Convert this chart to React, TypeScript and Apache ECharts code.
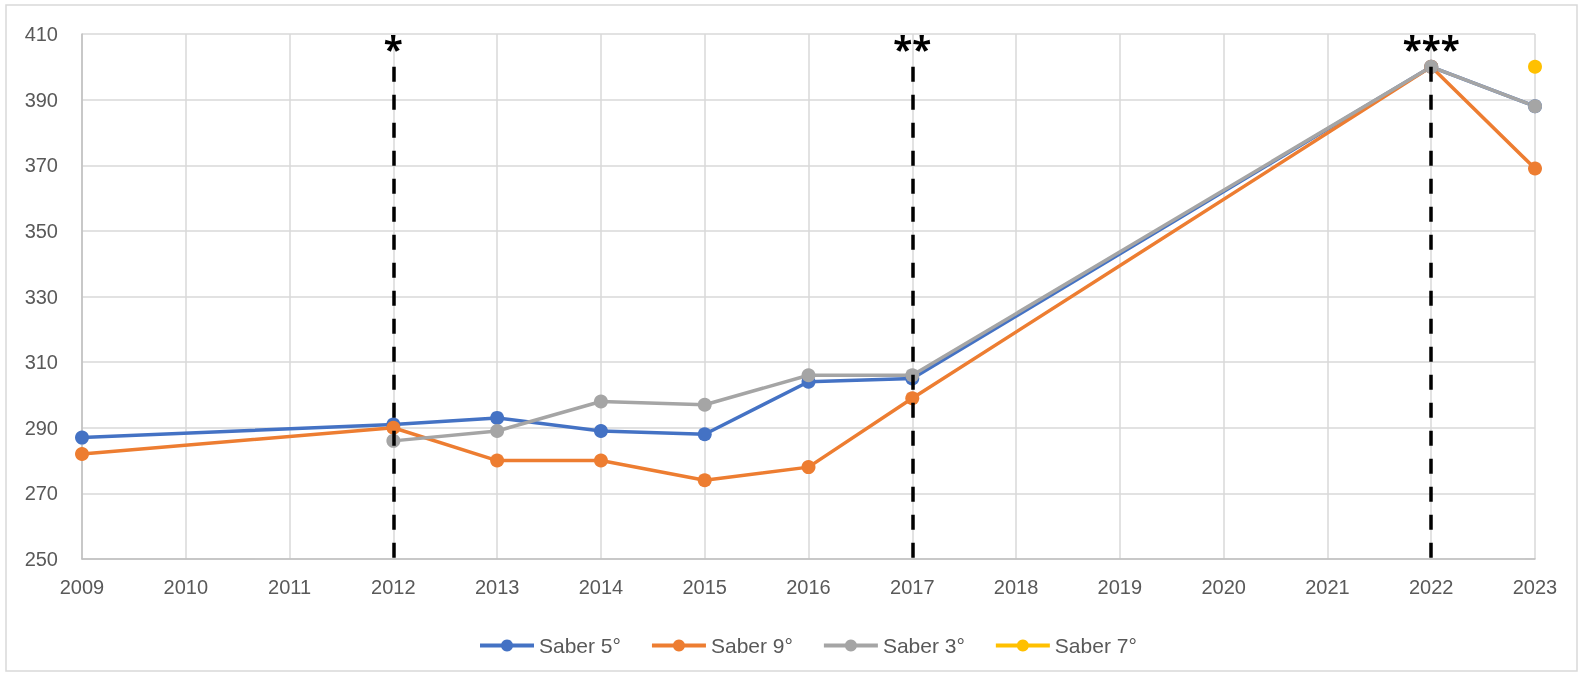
import React, { useEffect, useRef } from "react";
import * as echarts from "echarts";

const years = ["2009", "2010", "2011", "2012", "2013", "2014", "2015", "2016", "2017", "2018", "2019", "2020", "2021", "2022", "2023"];
const saber5 = [287, null, null, 291, 293, 289, 288, 304, 305, null, null, null, null, 400, 388];
const saber9 = [282, null, null, 290, 280, 280, 274, 278, 299, null, null, null, null, 400, 369];
const saber3 = [null, null, null, 286, 289, 298, 297, 306, 306, null, null, null, null, 400, 388];
const saber7 = [null, null, null, null, null, null, null, null, null, null, null, null, null, null, 400];
const markYears = ["2012", "2017", "2022"];
const markLabels = ["*", "**", "***"];
const markTop = 400;
const markBottom = 250;

export default function App() {
  const ref = useRef<HTMLDivElement>(null);
  useEffect(() => {
    const chart = echarts.init(ref.current!, undefined, { renderer: "svg" });
    const mk = (name: string, data: (number | null)[], color: string) => ({
      name,
      type: "line",
      data,
      connectNulls: true,
      symbol: "circle",
      symbolSize: 14,
      showSymbol: true,
      showAllSymbol: true,
      itemStyle: { color },
      lineStyle: { color, width: 3.5 },
    });
    chart.setOption({
      animation: false,
      textStyle: { fontFamily: "Liberation Sans" },
      graphic: [
        {
          type: "rect",
          shape: { x: 6, y: 5, width: 1571, height: 666 },
          style: { fill: "none", stroke: "#d9d9d9", lineWidth: 1.5 },
          silent: true,
        },
      ],
      grid: { left: 82, right: 47, top: 34, bottom: 118, containLabel: false },
      legend: {
        data: ["Saber 5°", "Saber 9°", "Saber 3°", "Saber 7°"],
        left: 473,
        top: 630,
        itemWidth: 54,
        itemHeight: 15,
        itemGap: 29,
        lineStyle: { width: 4 },
        textStyle: { fontSize: 21, color: "#595959", fontFamily: "Liberation Sans" },
      },
      xAxis: {
        type: "category",
        data: years,
        boundaryGap: false,
        axisLine: { lineStyle: { color: "#bfbfbf", width: 1.5 } },
        axisTick: { show: false },
        axisLabel: { color: "#595959", fontSize: 20, margin: 18 },
        splitLine: { show: true, lineStyle: { color: "#d9d9d9", width: 1.5 } },
      },
      yAxis: {
        type: "value",
        min: 250,
        max: 410,
        interval: 20,
        axisLine: { show: true, lineStyle: { color: "#bfbfbf", width: 1.5 } },
        axisTick: { show: false },
        axisLabel: { color: "#595959", fontSize: 20, margin: 24 },
        splitLine: { show: true, lineStyle: { color: "#d9d9d9", width: 1.5 } },
      },
      series: [
        mk("Saber 5°", saber5, "#4472C4"),
        mk("Saber 9°", saber9, "#ED7D31"),
        mk("Saber 3°", saber3, "#A5A5A5"),
        mk("Saber 7°", saber7, "#FFC000"),
        {
          name: "marks",
          type: "line",
          data: [],
          z: 10,
          markLine: {
            silent: true,
            symbol: "none",
            lineStyle: { color: "#000", width: 3.5, type: [15, 13] },
            label: {
              show: true,
              position: "start",
              distance: 1,
              color: "#000",
              fontSize: 35,
              fontWeight: "bold",
              fontFamily: "Noto Sans",
            },
            data: markYears.map((y, i) => [
              { coord: [y, markTop], label: { formatter: markLabels[i] } },
              { coord: [y, markBottom] },
            ]),
          },
        },
      ],
    });
    return () => chart.dispose();
  }, []);
  return <div ref={ref} style={{ position: "fixed", left: 0, top: 0, width: 1582, height: 677 }} />;
}
